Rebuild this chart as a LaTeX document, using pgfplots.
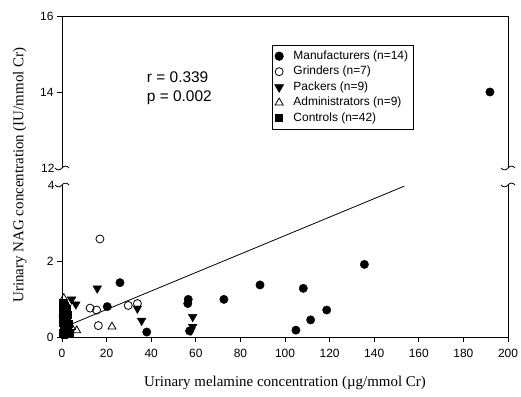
\documentclass[border=0pt]{standalone}
\usepackage{fontspec}
\setmainfont{Liberation Sans}
\newfontfamily\labelfont{Liberation Serif}
\usepackage{pgfplots}
\usepackage{pgfplotstable}
\pgfplotsset{compat=1.18}

% Urinary melamine (x, ug/mmol Cr) vs urinary NAG (y, IU/mmol Cr)
\pgfplotstableread{
x y
191.9 14.00
26.0 1.43
20.3 0.80
38.0 0.13
56.6 0.99
56.4 0.88
57.2 0.16
72.6 0.99
88.8 1.37
135.6 1.91
108.2 1.28
118.7 0.71
111.5 0.45
104.9 0.18
}\manufacturers

\pgfplotstableread{
x y
17.0 2.58
12.6 0.76
15.5 0.71
16.3 0.30
29.7 0.83
33.8 0.88
2.0 0.78
}\grinders

\pgfplotstableread{
x y
15.8 1.28
33.8 0.75
35.7 0.43
58.6 0.53
58.6 0.27
57.8 0.17
4.3 0.99
6.2 0.86
3.0 0.22
}\packers

\pgfplotstableread{
x y
22.4 0.27
6.6 0.17
0.8 1.02
1.5 0.50
2.2 0.30
3.6 0.18
0.5 0.62
4.2 0.26
1.2 0.85
}\administrators

\pgfplotstableread{
x y
0.3 0.12
0.5 0.25
0.8 0.18
1.2 0.31
0.4 0.42
0.9 0.36
1.5 0.22
2.1 0.15
0.6 0.55
1.1 0.48
0.2 0.65
1.8 0.40
2.5 0.28
0.7 0.72
1.4 0.60
0.3 0.80
1.0 0.88
2.2 0.52
0.5 0.33
1.6 0.70
2.8 0.20
0.9 0.10
1.3 0.78
0.4 0.92
2.0 0.63
3.1 0.35
0.6 0.46
1.7 0.12
0.2 0.38
1.1 0.66
2.4 0.44
0.8 0.58
1.9 0.27
0.5 0.70
1.3 0.15
3.4 0.10
0.3 0.52
2.6 0.58
1.5 0.84
0.7 0.30
2.3 0.75
1.0 0.05
}\controls

\pgfplotsset{
  panel/.style={
    scale only axis, width=446bp, height=152bp,
    xmin=0, xmax=200,
    axis y line*=left,
    tick align=outside, major tick length=5bp,
    axis line style={line width=0.8bp},
    tick style={line width=0.8bp, black},
    tick label style={font=\fontsize{12}{14}\selectfont},
    /pgf/number format/assume math mode=true,
    extra y tick style={major tick length=0pt,
      tick label style={xshift=-4bp}},
  },
  manuf/.style={only marks, mark=*, mark size=4.2bp, black},
  grind/.style={only marks, mark=o, mark size=4bp, black, line width=0.8bp},
  pack/.style={only marks, mark=triangle*, mark size=5bp, black,
    mark options={rotate=180}},
  admin/.style={only marks, mark=triangle, mark size=4.6bp, black,
    line width=0.8bp},
  ctrl/.style={only marks, mark=square*, mark size=3.3bp, black},
}

\begin{document}
\begin{tikzpicture}
\useasboundingbox (0,0) rectangle (521bp,397bp);

% lower panel: 0 to 4
\begin{axis}[panel, at={(62bp,60bp)}, anchor=south west,
  ymin=0, ymax=4,
  axis x line*=bottom,
  xtick={0,20,...,200},
  xticklabel style={yshift=-3.5bp},
  ytick={0,2}, extra y ticks={4},
]
\addplot[ctrl] table {\controls};
\addplot[admin] table {\administrators};
\addplot[grind] table {\grinders};
\addplot[pack] table {\packers};
\addplot[manuf, restrict y to domain=0:4] table {\manufacturers};
\addplot[black, line width=0.8bp] coordinates {(3,0.31) (153.5,3.97)};
\end{axis}

% upper panel: 12 to 16
\begin{axis}[panel, at={(62bp,229bp)}, anchor=south west,
  ymin=12, ymax=16,
  axis x line*=top, xtick=\empty,
  ytick={14,16}, extra y ticks={12},
  legend cell align=left,
  legend style={at={(0.470,0.809)}, anchor=north west,
    draw=black, line width=0.8bp,
    font=\fontsize{12}{14}\selectfont,
    inner xsep=2.8bp, inner ysep=3bp, column sep=8bp,
    nodes={inner xsep=2bp, inner ysep=1.75bp, text height=9bp, text depth=3bp}},
]
\addplot[manuf, restrict y to domain=12:16] table {\manufacturers};
\addlegendentry{Manufacturers (n=14)}
\addlegendimage{grind}
\addlegendentry{Grinders (n=7)}
\addlegendimage{pack}
\addlegendentry{Packers (n=9)}
\addlegendimage{admin}
\addlegendentry{Administrators (n=9)}
\addlegendimage{ctrl}
\addlegendentry{Controls (n=42)}
\node[anchor=base west, inner sep=0pt, font=\fontsize{15.5}{18}\selectfont]
  at (axis cs:38,14.237) {r = 0.339};
\node[anchor=base west, inner sep=0pt, font=\fontsize{15.5}{18}\selectfont]
  at (axis cs:38,13.763) {p = 0.002};
\end{axis}

% right-hand frame lines
\draw[line width=0.8bp] (508bp,60bp) -- (508bp,212bp);
\draw[line width=0.8bp] (508bp,229bp) -- (508bp,381bp);

% axis break marks
\foreach \bx in {62,508}{
  \foreach \by in {212,229}{
    \draw[line width=0.8bp] (\bx bp,\by bp) ++(-7bp,0bp)
      .. controls +(2bp,-2.5bp) and +(-2bp,-2.5bp) .. ++(7bp,0bp)
      .. controls +(2bp,2.5bp) and +(-2bp,2.5bp) .. ++(7bp,0bp);
  }
}

% axis titles
\node[anchor=base, inner sep=0pt, font=\labelfont\fontsize{15}{17}\selectfont]
  at (285bp,10.3bp) {Urinary melamine concentration (µg/mmol Cr)};
\node[anchor=base, rotate=90, inner sep=0pt, font=\labelfont\fontsize{15}{17}\selectfont]
  at (23.3bp,222bp) {Urinary NAG concentration (IU/mmol Cr)};
\end{tikzpicture}
\end{document}
